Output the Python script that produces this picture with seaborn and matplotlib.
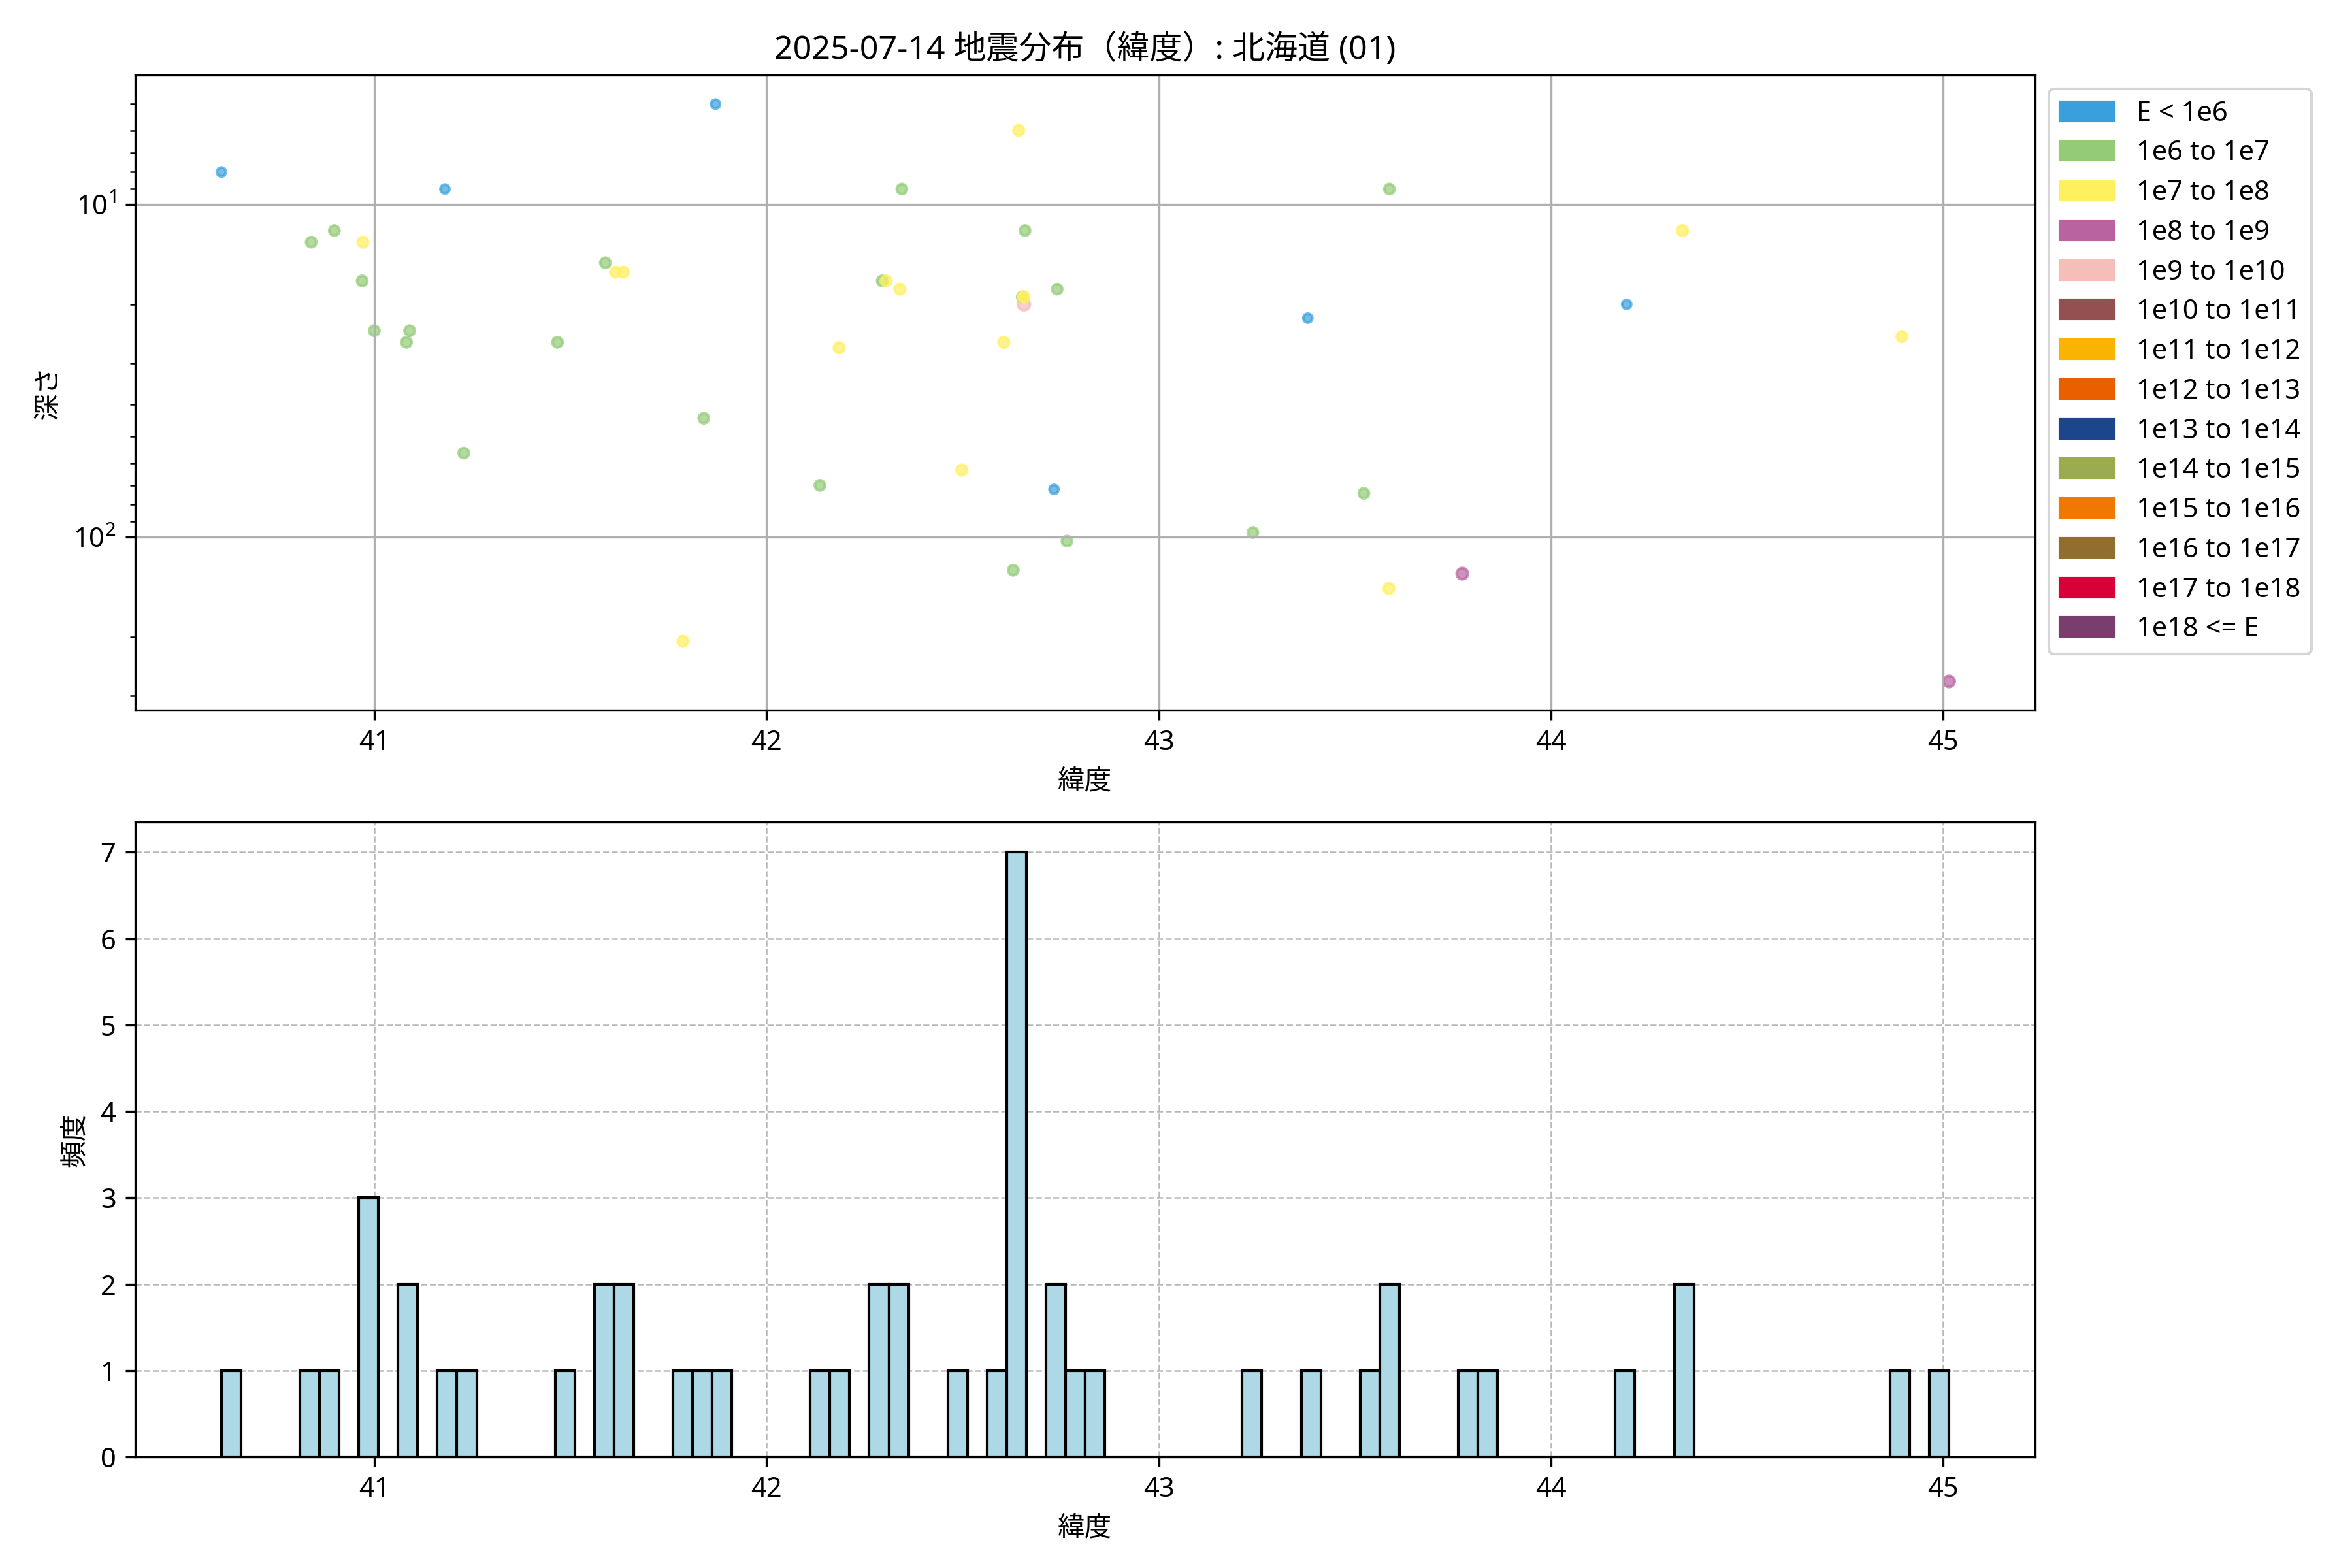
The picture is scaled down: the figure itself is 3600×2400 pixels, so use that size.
import matplotlib

matplotlib.use('Agg')
import matplotlib.pyplot as plt
from matplotlib.patches import Patch
import seaborn as sns
import pandas as pd

plt.rcParams['font.family'] = ['Noto Sans', 'Noto Sans CJK JP', 'DejaVu Sans']
plt.rcParams['mathtext.fontset'] = 'custom'
plt.rcParams['mathtext.rm'] = 'Noto Sans'
plt.rcParams['axes.unicode_minus'] = False

title = '2025-07-14 地震分布（緯度）: 北海道 (01)'

# エネルギー区分（凡例）
class_labels = [
    'E < 1e6', '1e6 to 1e7', '1e7 to 1e8', '1e8 to 1e9', '1e9 to 1e10',
    '1e10 to 1e11', '1e11 to 1e12', '1e12 to 1e13', '1e13 to 1e14',
    '1e14 to 1e15', '1e15 to 1e16', '1e16 to 1e17', '1e17 to 1e18',
    '1e18 <= E',
]
class_colors = [
    '#3aa0dc', '#93cb76', '#fff060', '#b964a0', '#f5beb9',
    '#945050', '#f8b400', '#ea5f00', '#1c468c',
    '#9bac50', '#f07800', '#916e2d', '#d70037', '#7a3e6e',
]

# 地震ごとのデータ（深さ None は深さ不明）
latitude = [
    40.61, 41.87, 41.18, 42.733, 43.38, 44.193,
    42.656,
    40.898, 40.839, 40.969, 41.00, 41.09, 41.082, 41.467, 41.589,
    41.84, 41.228, 42.345, 42.659, 42.295, 42.652, 42.741, 42.136, 42.766,
    42.629, 43.240, 43.523, 43.588,
    40.971, 41.615, 41.635, 41.787, 42.643, 42.305, 42.340, 42.656, 42.655,
    42.185, 42.605, 42.498, 43.587, 44.335, 44.895,
    43.774, 45.015,
    41.592, 42.83, 43.83, 44.34,
]
depth = [
    8.0, 5.0, 9.0, 72, 22, 20,
    20,
    12, 13, 17, 24, 24, 26, 26, 15,
    44, 56, 9, 12, 17, 19, 18, 70, 103,
    126, 97, 74, 9,
    13, 16, 16, 206, 6, 17, 18, 19, 19,
    27, 26, 63, 143, 12, 25,
    129, 272,
    None, None, None, None,
]
energy_class = [
    0, 0, 0, 0, 0, 0,
    4,
    1, 1, 1, 1, 1, 1, 1, 1,
    1, 1, 1, 1, 1, 1, 1, 1, 1,
    1, 1, 1, 1,
    2, 2, 2, 2, 2, 2, 2, 2, 2,
    2, 2, 2, 2, 2, 2,
    3, 3,
    1, 1, 1, 1,
]

df = pd.DataFrame({'lat': latitude, 'depth': depth, 'cls': energy_class})
df['label'] = [class_labels[c] for c in df['cls']]
palette = dict(zip(class_labels, class_colors))
marker_sizes = {class_labels[0]: 11, class_labels[1]: 14, class_labels[2]: 15,
                class_labels[3]: 17, class_labels[4]: 20}

fig, (ax1, ax2) = plt.subplots(2, 1, figsize=(12, 8))
fig.subplots_adjust(left=0.0574, right=0.8654, top=0.952, bottom=0.0708, hspace=0.176)

# 上段: 緯度 vs 深さ
scatter_df = df.dropna(subset=['depth'])
sns.scatterplot(
    data=scatter_df, x='lat', y='depth', hue='label', palette=palette,
    size='label', sizes=marker_sizes, alpha=0.7, edgecolor='face',
    linewidth=1.0, legend=False, ax=ax1
)
ax1.set_yscale('log')
ax1.invert_yaxis()
ax1.set_title(title, fontsize=12)
ax1.set_xlabel('緯度')
ax1.set_ylabel('深さ')
ax1.grid(True)

handles = [Patch(color=c, label=l) for l, c in zip(class_labels, class_colors)]
ax1.legend(handles=handles, loc='upper left', bbox_to_anchor=(1, 1),
           labelspacing=0.45)

# 下段: 緯度のヒストグラム
sns.histplot(x=df['lat'], binwidth=0.05, color='lightblue', edgecolor='black',
             alpha=1, linewidth=1.0, ax=ax2)
ax2.set_xlabel('緯度')
ax2.set_ylabel('頻度')
ax2.set_axisbelow(True)
ax2.grid(True, linestyle='--', linewidth=0.6, alpha=0.9)

fig.savefig('out.png', dpi=300)
plt.close(fig)
